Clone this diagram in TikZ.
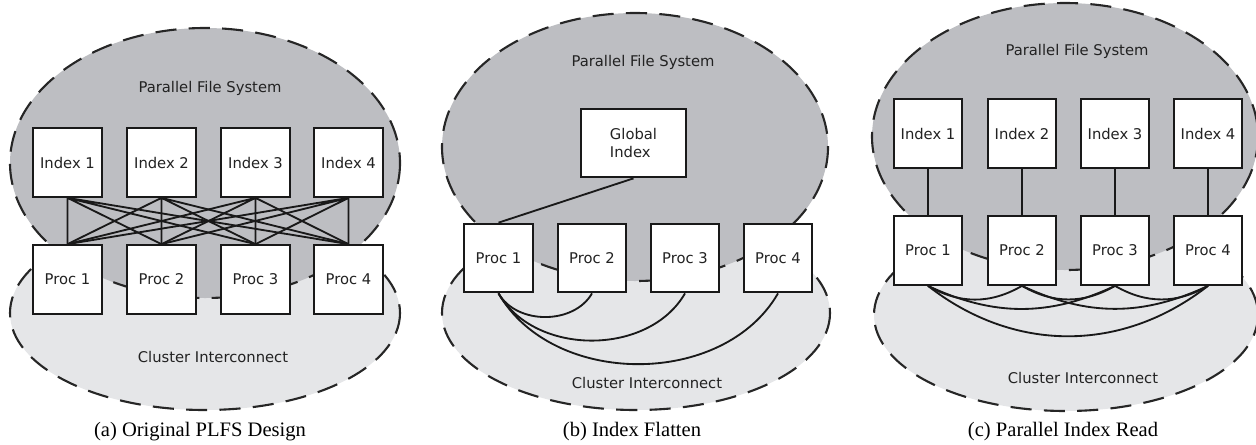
\documentclass[tikz,border=0pt]{standalone}
\usepackage{fontspec}
\setmainfont{Liberation Serif}
\setsansfont{DejaVu Sans}
\usepackage{xcolor}
\definecolor{pfsgray}{RGB}{189,190,194}
\definecolor{netgray}{RGB}{229,230,232}
\definecolor{ink}{RGB}{34,34,34}

\begin{document}
\begin{tikzpicture}[x=0.02cm, y=-0.02cm,
        zone/.style={draw=black!85, line width=1.2pt, dash pattern=on 12pt off 7pt},
        cell/.style={draw=black!90, fill=white, line width=1.25pt, minimum width=39pt,
            minimum height=39pt, inner sep=0pt, text=ink,
            font=\sffamily\fontsize{8.4}{10.4}\selectfont},
        tag/.style={text=ink, font=\sffamily\fontsize{8.4}{10.4}\selectfont},
        caption/.style={font=\fontsize{11.7}{14}\selectfont},
        link/.style={draw=black!90, line width=1.05pt}]
        \useasboundingbox (0, 0) rectangle (1256, 444);

        \path[zone, fill=netgray] (205, 313) ellipse [x radius=195, y radius=97];
        \path[zone, fill=pfsgray] (205, 163) ellipse [x radius=195, y radius=135];
        \path[zone, fill=netgray] (636, 313) ellipse [x radius=194, y radius=97];
        \path[zone, fill=pfsgray] (635, 147) ellipse [x radius=193, y radius=134];
        \path[zone, fill=netgray] (1066, 315) ellipse [x radius=192, y radius=96];
        \path[zone, fill=pfsgray] (1065, 136.5) ellipse [x radius=193, y radius=133.5];

        \node[tag] (apfs) at (210, 88)      {Parallel File System};
        \node[cell] (ai1) at (67.5, 162.5)  {Index 1};
        \node[cell] (ai2) at (161.5, 162.5) {Index 2};
        \node[cell] (ai3) at (255.5, 162.5) {Index 3};
        \node[cell] (ai4) at (348.5, 162.5) {Index 4};
        \node[cell] (ap1) at (67.5, 279.5)  {Proc 1};
        \node[cell] (ap2) at (161.5, 279.5) {Proc 2};
        \node[cell] (ap3) at (255.5, 279.5) {Proc 3};
        \node[cell] (ap4) at (348.5, 279.5) {Proc 4};
        \node[tag] (anet) at (213, 357)     {Cluster Interconnect};
        \node[caption] (acap) at (200, 432) {(a) Original PLFS Design};

        \draw[link] (ai1.south) -- (ap1.north) (ai1.south) -- (ap2.north) (ai1.south) -- (ap3.north) (ai1.south) -- (ap4.north);
        \draw[link] (ai2.south) -- (ap1.north) (ai2.south) -- (ap2.north) (ai2.south) -- (ap3.north) (ai2.south) -- (ap4.north);
        \draw[link] (ai3.south) -- (ap1.north) (ai3.south) -- (ap2.north) (ai3.south) -- (ap3.north) (ai3.south) -- (ap4.north);
        \draw[link] (ai4.south) -- (ap1.north) (ai4.south) -- (ap2.north) (ai4.south) -- (ap3.north) (ai4.south) -- (ap4.north);

        \node[tag] (bpfs) at (643, 62)    {Parallel File System};
        \node[cell, minimum width=60pt, align=left] (bg) at (633.5, 143) {Global\\Index};
        \node[cell] (bp1) at (498.5, 258) {Proc 1};
        \node[cell] (bp2) at (592, 258)   {Proc 2};
        \node[cell] (bp3) at (685, 258)   {Proc 3};
        \node[cell] (bp4) at (778, 258)   {Proc 4};
        \node[tag] (bnet) at (647, 383)   {Cluster Interconnect};
        \node[caption] (bcap) at (632, 432) {(b) Index Flatten};

        \draw[link] (bg.south) -- (bp1.north);
        \draw[link] (bp1.south) to[out=-60, in=-120] (bp2.south);
        \draw[link] (bp1.south) to[out=-60, in=-120] (bp3.south);
        \draw[link] (bp1.south) to[out=-60, in=-120] (bp4.south);

        \node[tag] (cpfs) at (1077, 51)    {Parallel File System};
        \node[cell] (ci1) at (928, 133.5)  {Index 1};
        \node[cell] (ci2) at (1022, 133.5) {Index 2};
        \node[cell] (ci3) at (1115, 133.5) {Index 3};
        \node[cell] (ci4) at (1208, 133.5) {Index 4};
        \node[cell] (cp1) at (928, 250.5)  {Proc 1};
        \node[cell] (cp2) at (1022, 250.5) {Proc 2};
        \node[cell] (cp3) at (1115, 250.5) {Proc 3};
        \node[cell] (cp4) at (1208, 250.5) {Proc 4};
        \node[tag] (cnet) at (1083, 378)   {Cluster Interconnect};
        \node[caption] (ccap) at (1063, 432) {(c) Parallel Index Read};

        \draw[link] (ci1) -- (cp1);
        \draw[link] (ci2) -- (cp2);
        \draw[link] (ci3) -- (cp3);
        \draw[link] (ci4) -- (cp4);
        \draw[link] (cp1.south) to[out=-30, in=-150] (cp2.south);
        \draw[link] (cp2.south) to[out=-30, in=-150] (cp3.south);
        \draw[link] (cp3.south) to[out=-30, in=-150] (cp4.south);
        \draw[link] (cp1.south) to[out=-25, in=-155] (cp3.south);
        \draw[link] (cp2.south) to[out=-25, in=-155] (cp4.south);
        \draw[link] (cp1.south) to[out=-38, in=-142] (cp4.south);
    \end{tikzpicture}
\end{document}
